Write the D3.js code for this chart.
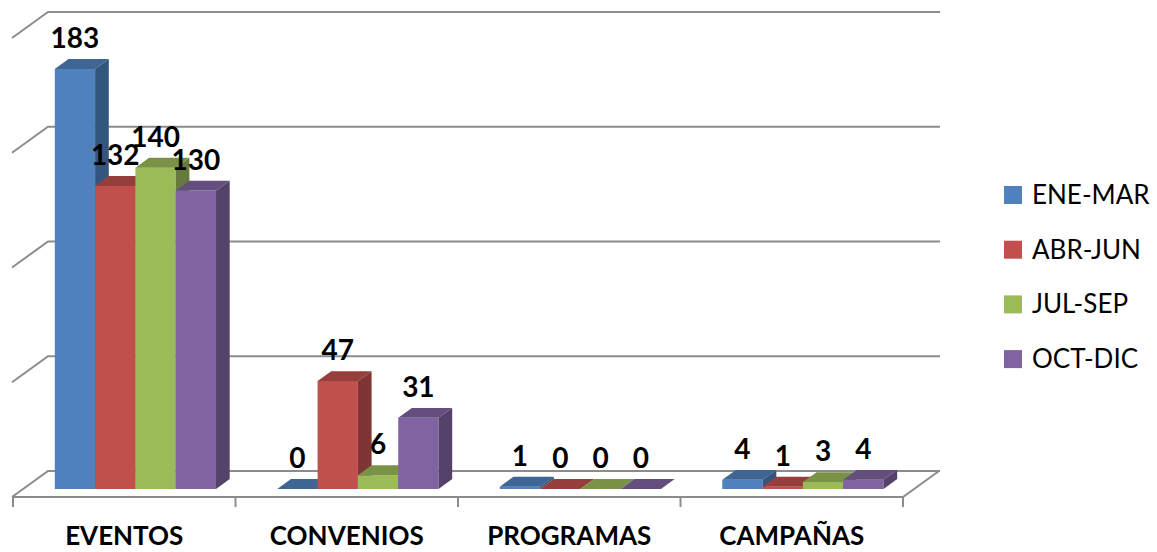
<!DOCTYPE html>
<html>
<head>
<meta charset="utf-8">
<script src="https://cdn.jsdelivr.net/npm/d3@7"></script>
<style>
  body { margin: 0; background: #fff; }
  svg { display: block; }
</style>
</head>
<body>
<svg id="main" width="1157" height="552"></svg>
<script>
const width = 1157;
const height = 552;

const categories = ['EVENTOS', 'CONVENIOS', 'PROGRAMAS', 'CAMPAÑAS'];
const seriesNames = ['ENE-MAR', 'ABR-JUN', 'JUL-SEP', 'OCT-DIC'];
const colors = ['#4F81BD', '#C0504D', '#9BBB59', '#8064A2'];
const eneMar = [183, 0, 1, 4];
const abrJun = [132, 47, 0, 1];
const julSep = [140, 6, 0, 3];
const octDic = [130, 31, 0, 4];
const gridValues = [0, 50, 100, 150, 200];

const seriesValues = [eneMar, abrJun, julSep, octDic];

// floor front edge and the depth of the 3d box
const floorY = 497;
const depth = { dx: 36, dy: -26 };
const barDepth = [0.31, 0.69];

const svg = d3.select('#main');

const xScale = d3.scaleBand()
    .domain(categories)
    .range([13, 903])
    .padding(0);

const xInner = d3.scaleBand()
    .domain(seriesNames)
    .range([0, xScale.bandwidth()])
    .paddingInner(0)
    .paddingOuter(0.76);

const yScale = d3.scaleLinear()
    .domain([0, 200])
    .range([0, 459]);

// point in the box: x on the front plane, height in px, depth fraction
const pt = (x, h, f) => [x + f * depth.dx, floorY - h + f * depth.dy];

// gridlines on the back wall with slanted left part
const grid = svg.append('g');
gridValues.forEach(v => {
    const h = yScale(v);
    const a = pt(12, h, 0);
    const b = pt(12, h, 1);
    const c = pt(940 - depth.dx, h, 1);
    grid.append('path')
        .attr('d', d3.line()([a, b, c]))
        .attr('fill', 'none')
        .attr('stroke', '#8c8c8c')
        .attr('stroke-width', 2);
});

// floor outline
const x0 = xScale.range()[0];
const x1 = xScale.range()[1];
grid.append('path')
    .attr('d', d3.line()([pt(x0, 0, 0), pt(x1, 0, 0), pt(x1, 0, 1)]))
    .attr('fill', 'none')
    .attr('stroke', '#8c8c8c')
    .attr('stroke-width', 2);

// ticks under the front edge
const tickX = categories.map(c => xScale(c)).concat([x1]);
grid.selectAll('.tick')
    .data(tickX)
    .join('line')
    .attr('class', 'tick')
    .attr('x1', d => d)
    .attr('x2', d => d)
    .attr('y1', floorY)
    .attr('y2', floorY + 10)
    .attr('stroke', '#8c8c8c')
    .attr('stroke-width', 2);

// bars
const bars = [];
categories.forEach((cat, ci) => {
    seriesNames.forEach((s, si) => {
        bars.push({
            cat: cat,
            series: s,
            value: seriesValues[si][ci],
            color: colors[si]
        });
    });
});

const shade = (c, k) => {
    const col = d3.rgb(c);
    return d3.rgb(col.r * k, col.g * k, col.b * k).formatHex();
};

const barGroup = svg.append('g');
bars.forEach(d => {
    const xl = xScale(d.cat) + xInner(d.series);
    const xr = xl + xInner.bandwidth();
    const h = yScale(d.value);
    const f0 = barDepth[0];
    const f1 = barDepth[1];
    const line = d3.line();
    const g = barGroup.append('g');
    if (h > 0) {
        g.append('path')
            .attr('d', line([pt(xl, 0, f0), pt(xr, 0, f0), pt(xr, h, f0), pt(xl, h, f0)]) + 'Z')
            .attr('fill', d.color);
    }
    g.append('path')
        .attr('d', line([pt(xl, h, f0), pt(xr, h, f0), pt(xr, h, f1), pt(xl, h, f1)]) + 'Z')
        .attr('fill', shade(d.color, 0.78));
    if (h > 0) {
        g.append('path')
            .attr('d', line([pt(xr, 0, f0), pt(xr, 0, f1), pt(xr, h, f1), pt(xr, h, f0)]) + 'Z')
            .attr('fill', shade(d.color, 0.66));
    }
});

// value labels
svg.append('g')
    .selectAll('text')
    .data(bars)
    .join('text')
    .attr('x', d => xScale(d.cat) + xInner(d.series) + xInner.bandwidth() / 2 + barDepth[0] * depth.dx)
    .attr('y', d => pt(0, yScale(d.value), barDepth[1])[1] - 11)
    .attr('text-anchor', 'middle')
    .attr('font-family', 'Lato, "Open Sans", sans-serif')
    .attr('font-weight', 'bold')
    .attr('font-size', 28)
    .attr('fill', '#000')
    .text(d => d.value);

// category labels
svg.append('g')
    .selectAll('text')
    .data(categories)
    .join('text')
    .attr('x', d => xScale(d) + xScale.bandwidth() / 2)
    .attr('y', 545)
    .attr('text-anchor', 'middle')
    .attr('font-family', 'Lato, "Open Sans", sans-serif')
    .attr('font-weight', 'bold')
    .attr('font-size', 26)
    .attr('fill', '#000')
    .text(d => d);

// legend
const legend = svg.append('g')
    .attr('transform', 'translate(1004, 186)');
const items = legend.selectAll('g')
    .data(seriesNames)
    .join('g')
    .attr('transform', (d, i) => `translate(0, ${i * 54.7})`);
items.append('rect')
    .attr('width', 18)
    .attr('height', 18)
    .attr('fill', (d, i) => colors[i]);
items.append('text')
    .attr('x', 28)
    .attr('y', 18)
    .attr('font-family', 'Lato, "Open Sans", sans-serif')
    .attr('font-size', 26)
    .attr('fill', '#000')
    .text(d => d);
</script>
</body>
</html>
